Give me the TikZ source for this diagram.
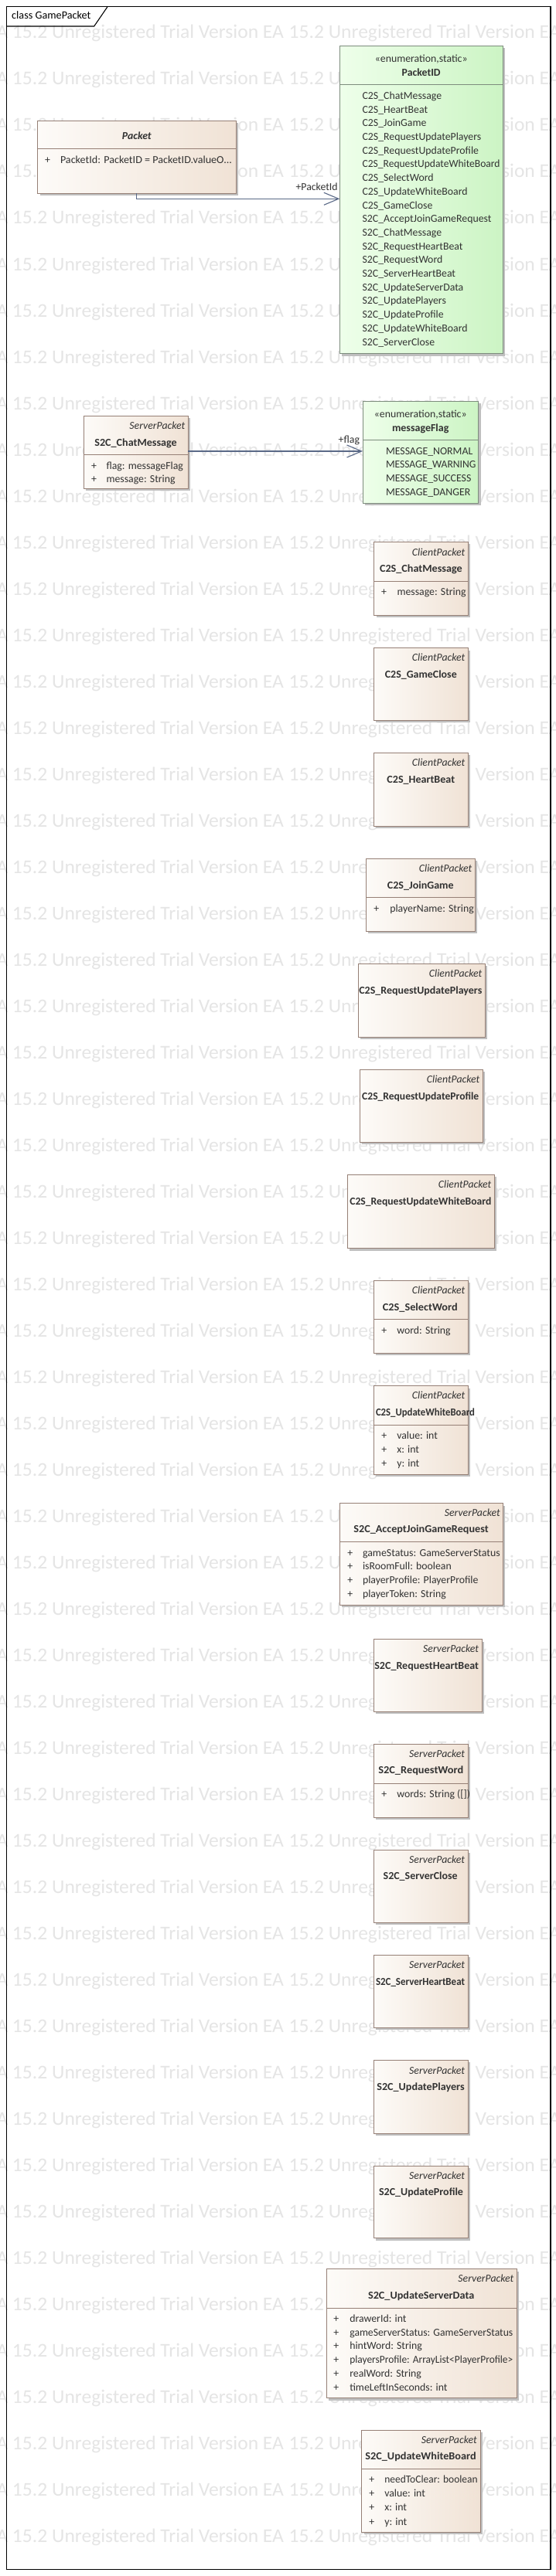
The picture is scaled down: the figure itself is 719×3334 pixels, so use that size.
\documentclass[tikz,border=0pt]{standalone}
\usepackage{fontspec}
\setmainfont{Carlito}
\usepackage{graphicx}
\usetikzlibrary{arrows.meta,shadows}
\definecolor{clsA}{RGB}{253,251,248}
\definecolor{clsB}{RGB}{240,226,213}
\definecolor{clsBorder}{RGB}{150,128,118}
\definecolor{enA}{RGB}{238,255,234}
\definecolor{enB}{RGB}{204,244,196}
\definecolor{enBorder}{RGB}{125,140,125}
\definecolor{txtc}{RGB}{50,50,50}
\definecolor{wmc}{RGB}{229,229,229}
\definecolor{linec}{RGB}{90,105,135}
\newcommand\fs{\fontsize{13.8}{16}\selectfont}
\newsavebox\fitbox
\newdimen\fxd
\newcommand\fx[2]{\sbox\fitbox{#2}\fxd=\wd\fitbox\relax\pgfmathsetmacro\fxr{#1/\the\fxd}\scalebox{\fxr}[1]{\usebox\fitbox}}
\newcounter{tn}
\newcommand\tx[4]{\stepcounter{tn}\edef\tnm{t\arabic{tn}}\node[#1] (\tnm) at (#2,#3) {#4};}
\newcommand\cbox[6][cls]{\node[#1, minimum width={#5-#3}, minimum height={#6-#4}] (#2) at (#3,#4) {};}
\newcommand\cdiv[3][clsBorder]{\draw[draw=#1, line width=0.9pt] (#2.west |- 0,#3) -- (#2.east |- 0,#3);}
\begin{document}
\begin{tikzpicture}[x=1pt,y=-1pt,
  cls/.style={anchor=north west, inner sep=0pt, outer sep=0pt, draw=clsBorder, line width=0.9pt,
    left color=clsA, right color=clsB,
    drop shadow={shadow xshift=3pt, shadow yshift=-3pt, fill=black!25, opacity=1}},
  en/.style={cls, draw=enBorder, left color=enA, right color=enB},
  tb/.style={inner sep=0pt, outer sep=0pt, text=txtc, font=\fs},
  nm/.style={tb, anchor=base, font=\fs\bfseries},
  st/.style={tb, anchor=base east, font=\fs\itshape},
  atr/.style={tb, anchor=base west},
  ctr/.style={tb, anchor=base},
  wm/.style={inner sep=0pt, outer sep=0pt, text=wmc, font=\fontsize{25.2}{30}\selectfont},
  frm/.style={draw=black, line width=1.1pt},
  assoc/.style={draw=linec, line width=1.1pt, -{Straight Barb[length=19pt,width=16pt]}}
]
\useasboundingbox (0,0) rectangle (719,3334);
\fill[white] (0,0) rectangle (719,3334);
% watermark
\foreach \k in {0,...,54}{
  \pgfmathsetmacro\yy{50+60*\k}
  \node[wm, anchor=base east] (wl\k) at (10.3,\yy) {EA};
  \node[wm, anchor=base west] (wa\k) at (16,\yy) {\fx{351}{15.2 Unregistered Trial Version EA}};
  \node[wm, anchor=base west] (wb\k) at (373.7,\yy) {\fx{351}{15.2 Unregistered Trial Version EA}};
}
% frame
\draw[frm] (8.3,8.3) rectangle (712,3325.7);
\draw[frm] (8.3,34) -- (121.7,34) -- (139.3,8.3);
\node[anchor=base west, inner sep=0pt, font=\fontsize{14.2}{17}\selectfont] (title) at (15,25) {class GamePacket};

% Packet
\cbox{packet}{48.6}{156.3}{305}{250}
\cdiv{packet}{192.3}
\tx{nm,font=\fs\bfseries\itshape}{176.8}{180.7}{Packet}
\tx{atr}{58}{211.4}{+}
\tx{atr}{78}{211.4}{\fx{222}{PacketId: PacketID = PacketID.valueO...}}

% PacketID enum
\cbox[en]{pkid}{439.3}{59.3}{650}{457.7}
\cdiv[enBorder]{pkid}{109}
\tx{ctr}{544.7}{80.7}{«enumeration,static»}
\tx{nm}{544.7}{98.4}{PacketID}
\foreach \s [count=\i from 0] in {C2S\_ChatMessage, C2S\_HeartBeat, C2S\_JoinGame, C2S\_RequestUpdatePlayers, C2S\_RequestUpdateProfile, {\fx{178}{C2S\_RequestUpdateWhiteBoard}}, C2S\_SelectWord, C2S\_UpdateWhiteBoard, C2S\_GameClose, {\fx{167}{S2C\_AcceptJoinGameRequest}}, S2C\_ChatMessage, S2C\_RequestHeartBeat, S2C\_RequestWord, S2C\_ServerHeartBeat, S2C\_UpdateServerData, S2C\_UpdatePlayers, S2C\_UpdateProfile, S2C\_UpdateWhiteBoard, S2C\_ServerClose}{
  \pgfmathsetmacro\yy{128.4+17.7*\i}
  \tx{atr}{468.6}{\yy}{\s}
}
\draw[assoc] (packet.south) |- ([yshift=-198pt]pkid.north west);
\node[tb, anchor=base east] (lblpk) at (436.7,246.4) {+PacketId};

% S2C_ChatMessage
\cbox{s2cchat}{108.2}{538.3}{243}{632.3}
\cdiv{s2cchat}{588.3}
\tx{st}{239.3}{555.4}{ServerPacket}
\tx{nm}{175.6}{577.4}{\fx{106.4}{S2C\_ChatMessage}}
\tx{atr}{118}{607.4}{+}\tx{atr}{137.5}{607.4}{flag: messageFlag}
\tx{atr}{118}{624.4}{+}\tx{atr}{137.5}{624.4}{message: String}

% messageFlag
\cbox[en]{msgflag}{469}{519.3}{618.5}{651}
\cdiv[enBorder]{msgflag}{569.3}
\tx{ctr}{543.75}{540}{«enumeration,static»}
\tx{nm}{543.75}{558}{\fx{73.4}{messageFlag}}
\tx{atr}{499}{588}{MESSAGE\_NORMAL}
\tx{atr}{499}{605.7}{\fx{116.4}{MESSAGE\_WARNING}}
\tx{atr}{499}{623.4}{MESSAGE\_SUCCESS}
\tx{atr}{499}{641.1}{MESSAGE\_DANGER}
\draw[assoc] ([yshift=-45.7pt]s2cchat.north east) -- ([yshift=-64.7pt]msgflag.north west);
\node[tb, anchor=base east] (lblflag) at (465,573.7) {+flag};

% C2S_ChatMessage
\cbox{c2schat}{483.5}{701.3}{605.3}{796}
\cdiv{c2schat}{752.3}
\tx{st}{601.3}{719}{ClientPacket}
\tx{nm}{544.4}{740.4}{\fx{106.8}{C2S\_ChatMessage}}
\tx{atr}{493}{770.4}{+}\tx{atr}{513.5}{770.4}{message: String}

% C2S_GameClose
\cbox{c2sclose}{483.3}{838.7}{605.3}{932.3}
\tx{st}{601.3}{855}{ClientPacket}
\tx{nm}{544.3}{877}{\fx{93}{C2S\_GameClose}}

% C2S_HeartBeat
\cbox{c2sheart}{483.3}{974.3}{605.3}{1069.3}
\tx{st}{601.3}{991.4}{ClientPacket}
\tx{nm}{544.3}{1013.4}{\fx{87.7}{C2S\_HeartBeat}}

% C2S_JoinGame
\cbox{c2sjoin}{473.3}{1111}{614.3}{1205}
\cdiv{c2sjoin}{1161}
\tx{st}{610.3}{1128}{ClientPacket}
\tx{nm}{543.8}{1150}{\fx{85.7}{C2S\_JoinGame}}
\tx{atr}{483.3}{1180.4}{+}\tx{atr}{504.3}{1180.4}{playerName: String}

% C2S_RequestUpdatePlayers
\cbox{c2splayers}{463.3}{1247.3}{627.3}{1342.3}
\tx{st}{623.3}{1264}{ClientPacket}
\tx{nm}{543.8}{1286.4}{\fx{159}{C2S\_RequestUpdatePlayers}}

% C2S_RequestUpdateProfile
\cbox{c2sprofile}{465.3}{1384.3}{624.3}{1478.3}
\tx{st}{620.3}{1401}{ClientPacket}
\tx{nm}{543.7}{1423.4}{\fx{151}{C2S\_RequestUpdateProfile}}

% C2S_RequestUpdateWhiteBoard
\cbox{c2swb}{449.3}{1520.3}{639.3}{1615.7}
\tx{st}{635.3}{1537}{ClientPacket}
\tx{nm}{543.8}{1559}{\fx{183}{C2S\_RequestUpdateWhiteBoard}}

% C2S_SelectWord
\cbox{c2sselect}{483.3}{1657.3}{605.3}{1751.3}
\cdiv{c2sselect}{1707.3}
\tx{st}{601.3}{1674}{ClientPacket}
\tx{nm}{543.3}{1696}{\fx{96.7}{C2S\_SelectWord}}
\tx{atr}{493.3}{1726.7}{+}\tx{atr}{513.3}{1726.7}{word: String}

% C2S_UpdateWhiteBoard
\cbox{c2supdwb}{483.3}{1793.7}{605.3}{1908.3}
\cdiv{c2supdwb}{1844.3}
\tx{st}{601.3}{1810.4}{ClientPacket}
\tx{nm}{550}{1832}{\fx{128}{C2S\_UpdateWhiteBoard}}
\tx{atr}{493.3}{1862}{+}\tx{atr}{513.3}{1862}{value: int}
\tx{atr}{493.3}{1880.4}{+}\tx{atr}{513.3}{1880.4}{x: int}
\tx{atr}{493.3}{1898.4}{+}\tx{atr}{513.3}{1898.4}{y: int}

% S2C_AcceptJoinGameRequest
\cbox{s2caccept}{439.3}{1945.7}{650.3}{2077.3}
\cdiv{s2caccept}{1995.3}
\tx{st}{646.7}{1962}{ServerPacket}
\tx{nm}{544.5}{1983.7}{\fx{174.3}{S2C\_AcceptJoinGameRequest}}
\tx{atr}{449.3}{2014.7}{+}\tx{atr}{469}{2014.7}{\fx{177.7}{gameStatus: GameServerStatus}}
\tx{atr}{449.3}{2031.4}{+}\tx{atr}{469}{2031.4}{isRoomFull: boolean}
\tx{atr}{449.3}{2049}{+}\tx{atr}{469}{2049}{playerProfile: PlayerProfile}
\tx{atr}{449.3}{2067.4}{+}\tx{atr}{469}{2067.4}{playerToken: String}

% S2C_RequestHeartBeat
\cbox{s2cheart}{483.3}{2121.7}{623.3}{2215}
\tx{st}{619}{2138}{ServerPacket}
\tx{nm}{551.7}{2160.4}{\fx{134.7}{S2C\_RequestHeartBeat}}

% S2C_RequestWord
\cbox{s2cword}{483.3}{2257.7}{605.3}{2352.3}
\cdiv{s2cword}{2308}
\tx{st}{601}{2274}{ServerPacket}
\tx{nm}{544.3}{2295.7}{\fx{110}{S2C\_RequestWord}}
\tx{atr}{493.3}{2326.4}{+}\tx{atr}{513.3}{2326.4}{words: String ([])}

% S2C_ServerClose
\cbox{s2cclose}{483.3}{2394.7}{605.3}{2488.3}
\tx{st}{601}{2411}{ServerPacket}
\tx{nm}{543.7}{2432}{\fx{96}{S2C\_ServerClose}}

% S2C_ServerHeartBeat
\cbox{s2cshb}{483.3}{2530.3}{605.3}{2624}
\tx{st}{601}{2547}{ServerPacket}
\tx{nm}{543.5}{2569}{\fx{115}{S2C\_ServerHeartBeat}}

% S2C_UpdatePlayers
\cbox{s2cplayers}{483.3}{2666.4}{605.3}{2761.3}
\tx{st}{601}{2684}{ServerPacket}
\tx{nm}{544}{2705.5}{\fx{113.3}{S2C\_UpdatePlayers}}

% S2C_UpdateProfile
\cbox{s2cprofile}{483.3}{2803.3}{605.3}{2896.5}
\tx{st}{601}{2820.1}{ServerPacket}
\tx{nm}{544.5}{2841.5}{\fx{109}{S2C\_UpdateProfile}}

% S2C_UpdateServerData
\cbox{s2cdata}{422.3}{2936.8}{668.3}{3103.8}
\cdiv{s2cdata}{2987}
\tx{st}{664.3}{2953.5}{ServerPacket}
\tx{nm}{544.7}{2975}{\fx{137.3}{S2C\_UpdateServerData}}
\tx{atr}{431.3}{3005.5}{+}\tx{atr}{452.3}{3005.5}{drawerId: int}
\tx{atr}{431.3}{3023.2}{+}\tx{atr}{452.3}{3023.2}{\fx{211}{gameServerStatus: GameServerStatus}}
\tx{atr}{431.3}{3040.9}{+}\tx{atr}{452.3}{3040.9}{hintWord: String}
\tx{atr}{431.3}{3058.6}{+}\tx{atr}{452.3}{3058.6}{\fx{211}{playersProfile: ArrayList<PlayerProfile>}}
\tx{atr}{431.3}{3076.3}{+}\tx{atr}{452.3}{3076.3}{realWord: String}
\tx{atr}{431.3}{3094}{+}\tx{atr}{452.3}{3094}{timeLeftInSeconds: int}

% S2C_UpdateWhiteBoard
\cbox{s2cwb}{467.7}{3145.4}{621}{3277.3}
\cdiv{s2cwb}{3195.6}
\tx{st}{616.7}{3162.6}{ServerPacket}
\tx{nm}{544}{3183.2}{\fx{143.3}{S2C\_UpdateWhiteBoard}}
\tx{atr}{477.3}{3213.2}{+}\tx{atr}{497.3}{3213.2}{\fx{120.4}{needToClear: boolean}}
\tx{atr}{477.3}{3231.5}{+}\tx{atr}{497.3}{3231.5}{value: int}
\tx{atr}{477.3}{3249.8}{+}\tx{atr}{497.3}{3249.8}{x: int}
\tx{atr}{477.3}{3268}{+}\tx{atr}{497.3}{3268}{y: int}
\end{tikzpicture}
\end{document}
